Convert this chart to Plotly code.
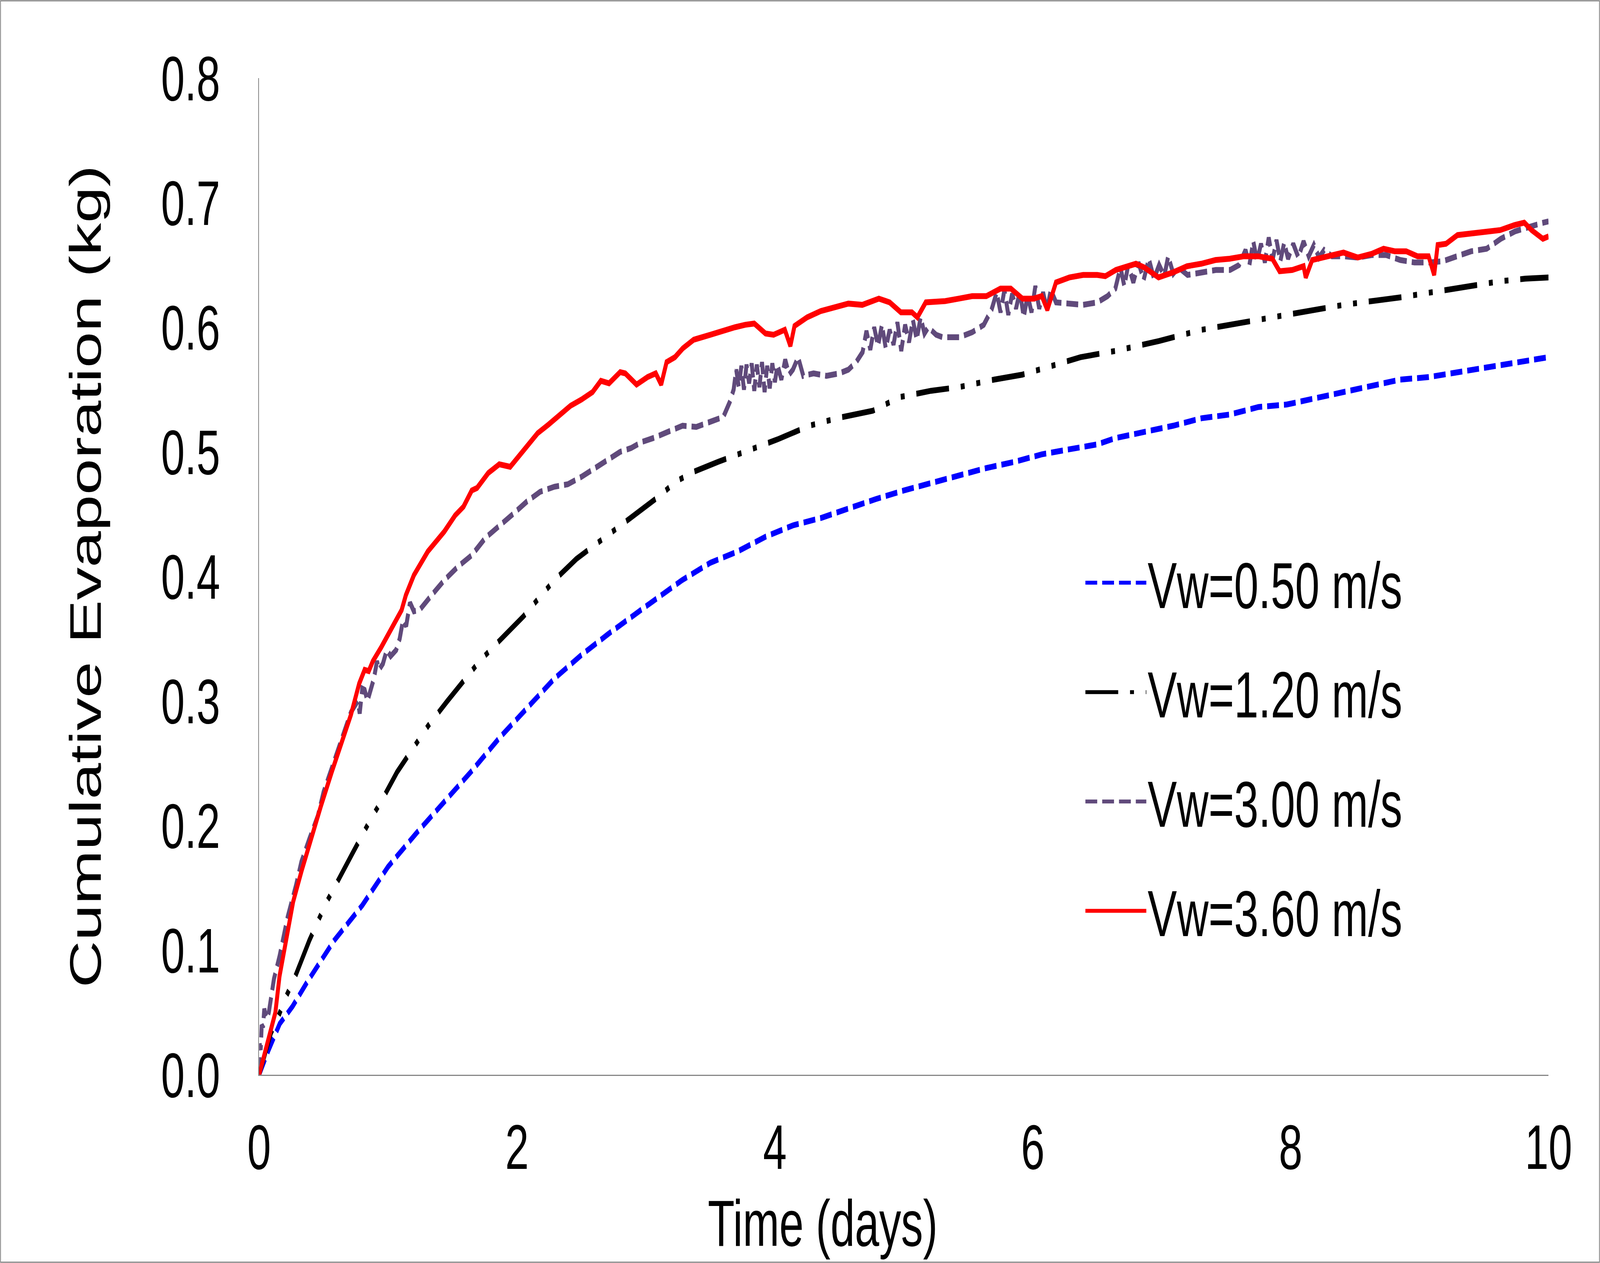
import plotly.graph_objects as go

# ---------------- data ----------------
series_names = ["Vw=0.50 m/s", "Vw=1.20 m/s", "Vw=3.00 m/s", "Vw=3.60 m/s"]

t_050 = [0, 0.07, 0.16, 0.26, 0.37, 0.58, 0.80, 1.00, 1.22, 1.44, 1.65, 1.86, 2.00,
         2.29, 2.50, 2.71, 3.00, 3.28, 3.50, 3.71, 3.93, 4.14, 4.36, 4.57, 4.78,
         5.00, 5.21, 5.43, 5.64, 5.86, 6.07, 6.28, 6.50, 6.64, 6.87, 7.09, 7.31,
         7.53, 7.75, 7.97, 8.19, 8.41, 8.63, 8.85, 9.07, 9.29, 9.52, 9.74, 10.0]
v_050 = [0, 0.019, 0.041, 0.055, 0.074, 0.1075, 0.136, 0.167, 0.194, 0.219, 0.244,
         0.270, 0.286, 0.318, 0.337, 0.354, 0.376, 0.397, 0.411, 0.420, 0.432, 0.441,
         0.447, 0.455, 0.462, 0.469, 0.475, 0.481, 0.487, 0.492, 0.498, 0.502, 0.506,
         0.511, 0.516, 0.521, 0.527, 0.530, 0.536, 0.538, 0.543, 0.548, 0.553, 0.558,
         0.560, 0.564, 0.568, 0.572, 0.576]

t_120 = [0, 0.03, 0.09, 0.15, 0.21, 0.28, 0.39, 0.52, 0.60, 0.72, 0.87, 0.95, 1.07,
         1.23, 1.31, 1.46, 1.63, 1.71, 1.86, 2.05, 2.14, 2.29, 2.46, 2.65, 2.76, 2.91,
         3.01, 3.11, 3.23, 3.37, 3.56, 3.82, 4.02, 4.27, 4.48, 4.76, 4.97, 5.21, 5.43,
         5.70, 5.92, 6.18, 6.37, 6.64, 6.98, 7.31, 7.53, 7.97, 8.41, 8.85, 9.29, 9.63,
         9.82, 10.0]
v_120 = [0, 0.012, 0.033, 0.047, 0.063, 0.079, 0.108, 0.138, 0.153, 0.177, 0.206, 0.220,
         0.243, 0.268, 0.280, 0.300, 0.322, 0.332, 0.348, 0.368, 0.379, 0.397, 0.414,
         0.429, 0.438, 0.449, 0.458, 0.465, 0.476, 0.484, 0.492, 0.502, 0.510, 0.521,
         0.527, 0.533, 0.544, 0.549, 0.552, 0.558, 0.562, 0.570, 0.576, 0.581, 0.589,
         0.598, 0.602, 0.609, 0.618, 0.624, 0.632, 0.637, 0.639, 0.640]

t_300 = [0, 0.004, 0.012, 0.02, 0.03, 0.04, 0.05, 0.062, 0.075, 0.09, 0.115, 0.158,
         0.222, 0.286, 0.328, 0.392, 0.456, 0.50, 0.584, 0.648, 0.712, 0.765, 0.78,
         0.80, 0.818, 0.84, 0.86, 0.89, 0.914, 0.93, 0.96, 0.99, 1.02, 1.063, 1.09,
         1.116, 1.14, 1.17, 1.20, 1.244, 1.33, 1.436, 1.543, 1.649, 1.755, 1.862,
         1.968, 2.075, 2.18, 2.29, 2.394, 2.5, 2.628, 2.714, 2.8, 2.884, 2.97, 3.055,
         3.14, 3.225, 3.284, 3.39, 3.5, 3.6, 3.65, 3.68, 3.70,
         3.72, 3.74, 3.76, 3.78, 3.80, 3.82, 3.84, 3.86, 3.88, 3.90, 3.92, 3.94, 3.96,
         3.98, 4.00, 4.02, 4.05, 4.08, 4.11, 4.14, 4.18, 4.22,
         4.30, 4.40, 4.50, 4.57, 4.63, 4.68, 4.71,
         4.74, 4.77, 4.80, 4.83, 4.86, 4.89, 4.92, 4.95, 4.98, 5.01, 5.04, 5.07, 5.10,
         5.13, 5.16, 5.19,
         5.25, 5.30, 5.43, 5.53, 5.62, 5.68,
         5.72, 5.75, 5.78, 5.81, 5.84, 5.87, 5.90, 5.93, 5.96, 5.99, 6.02, 6.05, 6.08,
         6.11, 6.14, 6.18,
         6.28, 6.39, 6.50, 6.58, 6.64,
         6.68, 6.71, 6.74, 6.78, 6.82, 6.86, 6.90, 6.94, 6.98, 7.02, 7.05, 7.09, 7.13,
         7.20, 7.31, 7.42, 7.53, 7.60,
         7.65, 7.68, 7.71, 7.74, 7.77, 7.80, 7.83, 7.86, 7.89, 7.92, 7.95, 7.98, 8.02,
         8.06, 8.10, 8.14, 8.18, 8.22, 8.26, 8.32,
         8.41, 8.52, 8.63, 8.74, 8.85, 8.96, 9.07, 9.18, 9.29, 9.40, 9.52, 9.63, 9.74,
         9.85, 9.96, 10.0]
v_300 = [0, 0.025, 0.020, 0.040, 0.038, 0.053, 0.048, 0.045, 0.050, 0.060, 0.077, 0.095,
         0.127, 0.152, 0.171, 0.190, 0.208, 0.227, 0.253, 0.272, 0.291, 0.300, 0.290,
         0.310, 0.309, 0.300, 0.307, 0.318, 0.332, 0.325, 0.330, 0.341, 0.336, 0.341,
         0.350, 0.365, 0.360, 0.379, 0.372, 0.373, 0.384, 0.397, 0.408, 0.417, 0.431,
         0.440, 0.450, 0.460, 0.468, 0.472, 0.474, 0.480, 0.488, 0.494, 0.500, 0.503,
         0.508, 0.511, 0.515, 0.518, 0.521, 0.520, 0.524, 0.528, 0.540, 0.550, 0.566,
         0.552, 0.569, 0.550, 0.570, 0.555, 0.571, 0.549, 0.570, 0.552, 0.572, 0.548,
         0.569, 0.551, 0.571, 0.556, 0.570, 0.558, 0.574, 0.562, 0.566, 0.576, 0.561,
         0.563, 0.561, 0.563, 0.566, 0.572, 0.580, 0.597,
         0.582, 0.600, 0.585, 0.602, 0.583, 0.598, 0.586, 0.604, 0.581, 0.602, 0.588,
         0.606, 0.590, 0.608, 0.595, 0.600,
         0.594, 0.592, 0.592, 0.596, 0.602, 0.614,
         0.628, 0.612, 0.630, 0.610, 0.627, 0.615, 0.629, 0.608, 0.626, 0.612, 0.633,
         0.615, 0.628, 0.614, 0.630, 0.620,
         0.619, 0.618, 0.620, 0.625, 0.631,
         0.648, 0.633, 0.650, 0.636, 0.652, 0.638, 0.655, 0.639, 0.650, 0.641, 0.657,
         0.643, 0.648,
         0.642, 0.644, 0.646, 0.646, 0.650,
         0.662, 0.650, 0.669, 0.653, 0.667, 0.652, 0.672, 0.654, 0.670, 0.653, 0.668,
         0.655, 0.667, 0.656, 0.669, 0.657, 0.666, 0.656, 0.662, 0.657,
         0.657, 0.656, 0.658, 0.658, 0.654, 0.652, 0.652, 0.653, 0.657, 0.661, 0.663,
         0.671, 0.677, 0.681, 0.684, 0.685]

t_360 = [0, 0.04, 0.094, 0.126, 0.158, 0.2, 0.264, 0.33, 0.392, 0.477, 0.563, 0.648,
         0.712, 0.776, 0.818, 0.85, 0.882, 0.946, 1.01, 1.063, 1.105, 1.138, 1.2,
         1.308, 1.436, 1.52, 1.585, 1.649, 1.69, 1.777, 1.862, 1.947, 2.03, 2.096,
         2.16, 2.245, 2.33, 2.415, 2.5, 2.586, 2.65, 2.714, 2.8, 2.84, 2.927, 3.012,
         3.076, 3.118, 3.16, 3.225, 3.285, 3.37, 3.5, 3.606, 3.69, 3.77, 3.84, 3.927,
         3.99, 4.077, 4.12, 4.152, 4.25, 4.355, 4.46, 4.57, 4.678, 4.806, 4.89, 4.977,
         5.063, 5.105, 5.17, 5.32, 5.427, 5.53, 5.64, 5.749, 5.83, 5.92, 6.006, 6.07,
         6.113, 6.18, 6.284, 6.39, 6.5, 6.563, 6.644, 6.8, 6.865, 6.975, 7.086, 7.196,
         7.307, 7.417, 7.527, 7.638, 7.748, 7.858, 7.914, 8.013, 8.1, 8.117, 8.167,
         8.3, 8.41, 8.52, 8.63, 8.72, 8.808, 8.896, 8.984, 9.07, 9.113, 9.14, 9.205,
         9.294, 9.404, 9.515, 9.625, 9.735, 9.812, 9.868, 9.956, 10.0]
v_360 = [0, 0.016, 0.038, 0.050, 0.079, 0.104, 0.139, 0.164, 0.186, 0.215, 0.243, 0.269,
         0.289, 0.314, 0.325, 0.324, 0.332, 0.343, 0.355, 0.366, 0.373, 0.385, 0.401,
         0.420, 0.436, 0.449, 0.456, 0.469, 0.471, 0.483, 0.490, 0.488, 0.498, 0.507,
         0.515, 0.522, 0.529, 0.537, 0.542, 0.548, 0.557, 0.555, 0.564, 0.563, 0.554,
         0.560, 0.563, 0.554, 0.572, 0.576, 0.583, 0.590, 0.594, 0.598, 0.600, 0.602,
         0.603, 0.595, 0.594, 0.598, 0.585, 0.601, 0.608, 0.613, 0.616, 0.619, 0.618,
         0.623, 0.620, 0.612, 0.612, 0.608, 0.620, 0.621, 0.623, 0.625, 0.625, 0.631,
         0.631, 0.623, 0.623, 0.625, 0.614, 0.636, 0.640, 0.642, 0.642, 0.641, 0.646,
         0.651, 0.648, 0.640, 0.644, 0.649, 0.651, 0.654, 0.655, 0.657, 0.657, 0.655,
         0.645, 0.646, 0.649, 0.640, 0.654, 0.657, 0.660, 0.656, 0.659, 0.663, 0.661,
         0.661, 0.657, 0.657, 0.642, 0.666, 0.667, 0.674, 0.675, 0.676, 0.678, 0.682,
         0.684, 0.678, 0.671, 0.673]

x_tick_vals = [0, 2, 4, 6, 8, 10]
y_tick_vals = [0.0, 0.1, 0.2, 0.3, 0.4, 0.5, 0.6, 0.7, 0.8]

# ---------------- styling ----------------
FONT = "Liberation Sans, Arial, sans-serif"
FS_TICK = 162
FS_TEXT = 167
AXIS_GRAY = "#868686"
colors = ["#0000FF", "#000000", "#604A7B", "#FF0000"]
dashes = ["45px,19px", "125px,45px,15px,45px,15px,45px", "45px,19px", "solid"]
LW = 15

W, H = 6094, 3234
ML, MR, MT, MB = 987, 196, 200, 482
PW, PH = W - ML - MR, H - MT - MB

def px_x(p):
    return (p - ML) / PW

def px_y(p):
    return (H - MB - p) / PH

fig = go.Figure()
for i, (tt, vv) in enumerate([(t_050, v_050), (t_120, v_120), (t_300, v_300), (t_360, v_360)]):
    fig.add_trace(go.Scatter(
        x=tt, y=vv, mode="lines", name=series_names[i],
        legendgroup=f"g{i}",
        line=dict(color=colors[i], width=LW, dash=dashes[i]),
    ))

fig.update_layout(
    width=W, height=H,
    margin=dict(l=ML, r=MR, t=MT, b=MB, pad=0),
    paper_bgcolor="white", plot_bgcolor="white",
    font=dict(family=FONT, size=FS_TEXT, color="black"),
    showlegend=True,
    legend=dict(
        x=px_x(4129), y=px_y(1377), xanchor="left", yanchor="top",
        bgcolor="rgba(0,0,0,0)", borderwidth=0,
        font=dict(family=FONT, size=FS_TEXT, color="black"),
        itemwidth=232, tracegroupgap=60,
    ),
    xaxis=dict(
        range=[0, 10], tickvals=x_tick_vals, ticktext=[str(v) for v in x_tick_vals],
        showgrid=False, zeroline=False, showline=True, linecolor=AXIS_GRAY, linewidth=3,
        ticks="", ticklabelstandoff=44,
        tickfont=dict(family=FONT, size=FS_TICK, color="black"),
    ),
    yaxis=dict(
        range=[0, 0.8], tickvals=y_tick_vals, ticktext=[f"{v:.1f}" for v in y_tick_vals],
        showgrid=False, zeroline=False, showline=True, linecolor=AXIS_GRAY, linewidth=3,
        ticks="", ticklabelstandoff=113,
        tickfont=dict(family=FONT, size=FS_TICK, color="black"),
        title=dict(text="Cumulative Evaporation (kg)", standoff=173,
                   font=dict(family=FONT, size=FS_TEXT, color="black")),
    ),
)

# x-axis title (offset left of the plot centre in the original)
fig.add_annotation(
    text="Time (days)", xref="paper", yref="paper",
    x=px_x(3133), y=px_y(3132), xanchor="center", yanchor="middle",
    showarrow=False, font=dict(family=FONT, size=FS_TEXT, color="black"),
)

# thin grey chart-area border
fig.add_shape(
    type="rect", xref="paper", yref="paper",
    x0=px_x(2), x1=px_x(W - 2), y0=px_y(H - 2), y1=px_y(2),
    line=dict(color=AXIS_GRAY, width=3), fillcolor="rgba(0,0,0,0)", layer="below",
)

# Fit the 6094x3234 figure into the viewport the page actually gets
# (no-op when the viewport really is 6094x3234).
fit_script = """
document.documentElement.style.overflow = 'hidden';
document.body.style.margin = '0';
document.body.style.overflow = 'hidden';
var gd = document.getElementById('{plot_id}');
var sx = window.innerWidth / 6094, sy = window.innerHeight / 3234;
if (Math.abs(sx - 1) > 0.005 || Math.abs(sy - 1) > 0.005) {
  gd.style.transformOrigin = '0 0';
  gd.style.transform = 'scale(' + sx + ',' + sy + ')';
}
"""

fig.write_html("out.html", config={"displayModeBar": False}, post_script=fit_script)
